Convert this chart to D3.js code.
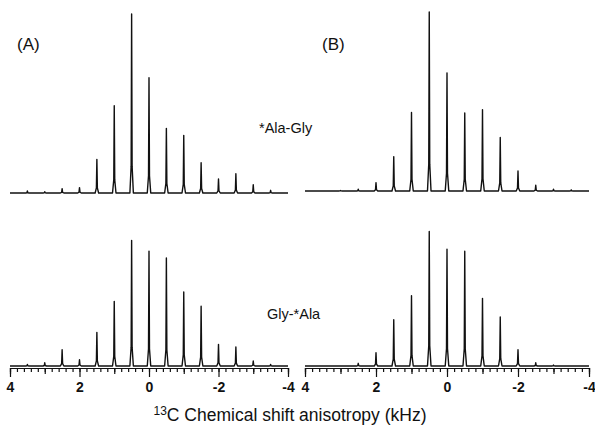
<!DOCTYPE html>
<html>
<head>
<meta charset="utf-8">
<script src="https://cdn.jsdelivr.net/npm/d3@7/dist/d3.min.js"></script>
<style>
  body { margin: 0; background: #fff; }
  svg text { font-family: "Liberation Sans", Arial, sans-serif; fill: #111; }
</style>
</head>
<body>
<div id="container"></div>
<script>
// sideband positions (kHz) and relative intensities
const positions = [3.5, 3, 2.5, 2, 1.5, 1, 0.5, 0, -0.5, -1, -1.5, -2, -2.5, -3, -3.5];
const alaGlyA = [1.1, 0.7, 2.4, 3.0, 18.8, 48.8, 100, 64.4, 36.1, 32.2, 16.9, 7.8, 10.8, 4.6, 1.5];
const alaGlyB = [0, 0.3, 1.0, 4.7, 19.2, 43.9, 100, 66.0, 43.6, 45.4, 29.9, 11.2, 3.2, 1.0, 0.6];
const glyAlaA = [0.9, 1.8, 9.1, 3.5, 18.8, 36.1, 70.2, 64.2, 60.3, 41.3, 33.4, 12.1, 10.6, 2.8, 0.9];
const glyAlaB = [0, 0, 1.5, 7.4, 25.9, 39.3, 75.2, 65.2, 64.1, 37.8, 27.4, 9.1, 1.8, 0.5, 0];
const majorTicks = [4, 2, 0, -2, -4];

const w = 595;
const h = 434;

const svg = d3.select("#container")
              .append("svg")
              .attr("width", w)
              .attr("height", h);

const xLeft = d3.scaleLinear().domain([4, -4]).range([10, 288]);
const xRight = d3.scaleLinear().domain([4, -4]).range([305, 589]);

// draw one spectrum: flat baseline plus a narrow spike for every sideband
function spectrum(x, base, values) {
    const y = d3.scaleLinear().domain([0, 100]).range([base, base - 179]);
    const pts = [[4, 0]];
    positions.forEach(function(p, i) {
        const v = values[i];
        pts.push([p + 0.05, 0], [p + 0.014, v * 0.15], [p, v], [p - 0.014, v * 0.15], [p - 0.05, 0]);
    });
    pts.push([-4, 0]);
    const line = d3.line()
                   .x((d) => x(d[0]))
                   .y((d) => y(d[1]));
    svg.append("path")
       .attr("d", line(pts))
       .attr("fill", "none")
       .attr("stroke", "#111")
       .attr("stroke-width", 1.4)
       .attr("stroke-linejoin", "round");
}

spectrum(xLeft, 193, alaGlyA);
spectrum(xRight, 191, alaGlyB);
spectrum(xLeft, 366, glyAlaA);
spectrum(xRight, 366, glyAlaB);

// axes
function axis(x) {
    const g = svg.append("g")
                 .attr("transform", "translate(0, 368)");
    g.append("g")
     .call(d3.axisBottom(x)
             .tickValues(d3.range(-4, 4.01, 0.2).map((d) => Math.round(d * 10) / 10))
             .tickSize(4).tickSizeOuter(0).tickFormat(""));
    g.append("g")
     .call(d3.axisBottom(x).tickValues([3, 1, -1, -3]).tickSize(6).tickFormat(""));
    g.append("g")
     .call(d3.axisBottom(x)
             .tickValues(majorTicks)
             .tickSize(9).tickSizeOuter(0).tickPadding(5)
             .tickFormat((d) => String(d)));
    g.selectAll("path.domain").attr("stroke", "#111").attr("stroke-width", 1.2);
    g.selectAll(".tick line").attr("stroke", "#111").attr("stroke-width", 1.2);
    g.selectAll(".tick text")
     .style("font-family", "Liberation Sans, Arial, sans-serif")
     .style("font-size", "14px")
     .style("font-weight", "bold")
     .attr("fill", "#111");
}
axis(xLeft);
axis(xRight);

// panel labels
svg.append("text").attr("x", 17).attr("y", 50).style("font-size", "17px").text("(A)");
svg.append("text").attr("x", 322).attr("y", 50).style("font-size", "17px").text("(B)");

// compound labels
svg.append("text").attr("x", 259).attr("y", 133).style("font-size", "14.5px").text("*Ala-Gly");
svg.append("text").attr("x", 267).attr("y", 319).style("font-size", "14.5px").text("Gly-*Ala");

// x-axis title
const title = svg.append("text")
                 .attr("x", 290)
                 .attr("y", 421)
                 .attr("text-anchor", "middle")
                 .style("font-size", "17.5px");
title.append("tspan").attr("dy", "-6").style("font-size", "12px").text("13");
title.append("tspan").attr("dy", "6").text("C Chemical shift anisotropy (kHz)");
</script>
</body>
</html>
